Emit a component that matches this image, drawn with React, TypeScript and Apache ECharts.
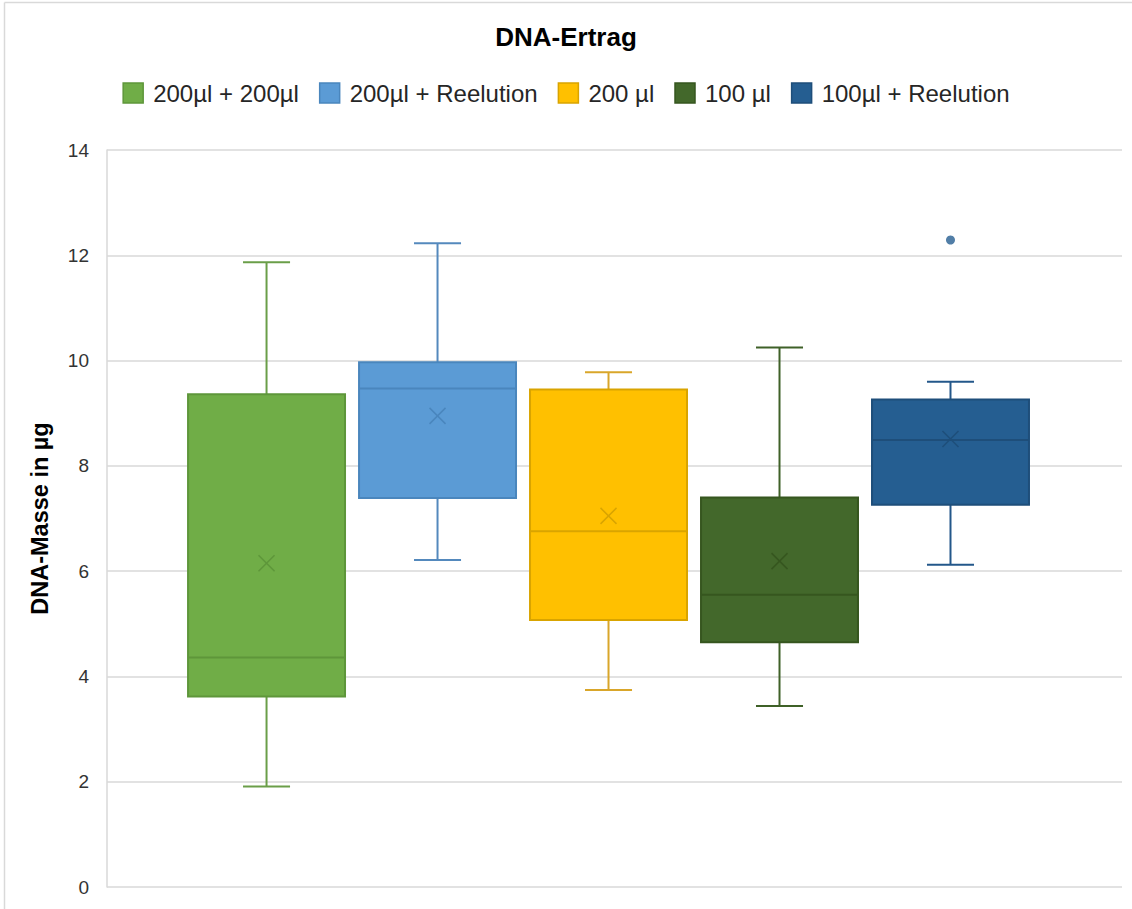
import React, { useEffect, useRef } from "react";
import * as echarts from "echarts";

const groups = ["200µl + 200µl", "200µl + Reelution", "200 µl", "100 µl", "100µl + Reelution"];
const lowWhisker = [1.91, 6.21, 3.74, 3.44, 6.12];
const q1 = [3.62, 7.39, 5.07, 4.65, 7.26];
const median = [4.36, 9.47, 6.76, 5.55, 8.49];
const q3 = [9.36, 9.97, 9.45, 7.4, 9.26];
const highWhisker = [11.87, 12.23, 9.78, 10.25, 9.6];
const mean = [6.15, 8.95, 7.05, 6.19, 8.51];
const outliers: [number, number][] = [[4, 12.29]];
const yTicks = [0, 2, 4, 6, 8, 10, 12, 14];

const fills = ["#70AD47", "#5B9BD5", "#FFC000", "#43682B", "#255E91"];
const strokes = ["#5E963A", "#4A86BD", "#D9A400", "#36561F", "#1E4E7A"];
const whiskerColors = ["#6A9E48", "#5489BD", "#D9A62A", "#3F6128", "#23578A"];

const FONT = "'Liberation Sans', Arial, sans-serif";

export default function App() {
  const ref = useRef<HTMLDivElement>(null);
  useEffect(() => {
    document.body.style.margin = "0";
    const chart = echarts.init(ref.current!, null, { renderer: "svg" });
    const BOX_W = 0.918;
    const CAP_W = 0.275;

    const series: any[] = groups.map((name, i) => ({
      name,
      type: "custom",
      coordinateSystem: "cartesian2d",
      itemStyle: { color: fills[i], borderColor: strokes[i] },
      data: [[i + 1, lowWhisker[i], q1[i], median[i], q3[i], highWhisker[i], mean[i]]],
      encode: { x: 0, y: [1, 2, 3, 4, 5] },
      renderItem: (params: any, api: any) => {
        const x = api.value(0);
        const pLow = api.coord([x, api.value(1)]);
        const pQ1 = api.coord([x, api.value(2)]);
        const pMed = api.coord([x, api.value(3)]);
        const pQ3 = api.coord([x, api.value(4)]);
        const pHigh = api.coord([x, api.value(5)]);
        const pMean = api.coord([x, api.value(6)]);
        const hw = api.size([BOX_W, 0])[0] / 2;
        const cw = api.size([CAP_W, 0])[0] / 2;
        const cx = pMed[0];
        const wStyle = { stroke: whiskerColors[i], lineWidth: 2 };
        const m = 8;
        return {
          type: "group",
          children: [
            { type: "line", shape: { x1: cx, y1: pLow[1], x2: cx, y2: pQ1[1] }, style: wStyle },
            { type: "line", shape: { x1: cx, y1: pQ3[1], x2: cx, y2: pHigh[1] }, style: wStyle },
            { type: "line", shape: { x1: cx - cw, y1: pLow[1], x2: cx + cw, y2: pLow[1] }, style: wStyle },
            { type: "line", shape: { x1: cx - cw, y1: pHigh[1], x2: cx + cw, y2: pHigh[1] }, style: wStyle },
            {
              type: "rect",
              shape: { x: cx - hw, y: pQ3[1], width: hw * 2, height: pQ1[1] - pQ3[1] },
              style: { fill: fills[i], stroke: strokes[i], lineWidth: 2 },
            },
            {
              type: "line",
              shape: { x1: cx - hw, y1: pMed[1], x2: cx + hw, y2: pMed[1] },
              style: { stroke: strokes[i], lineWidth: 2 },
            },
            {
              type: "line",
              shape: { x1: cx - m, y1: pMean[1] - m, x2: cx + m, y2: pMean[1] + m },
              style: { stroke: strokes[i], lineWidth: 1.5 },
            },
            {
              type: "line",
              shape: { x1: cx - m, y1: pMean[1] + m, x2: cx + m, y2: pMean[1] - m },
              style: { stroke: strokes[i], lineWidth: 1.5 },
            },
          ],
        };
      },
      z: 2,
    }));

    series.push({
      name: groups[4],
      type: "scatter",
      symbol: "circle",
      symbolSize: 9,
      itemStyle: { color: fills[4] },
      data: outliers.map(([g, v]) => [g + 1, v]),
      z: 3,
    });

    chart.setOption({
      animation: false,
      backgroundColor: "#fff",
      textStyle: { fontFamily: FONT },
      title: {
        text: "DNA-Ertrag",
        left: "center",
        top: 19,
        textStyle: { fontFamily: FONT, fontSize: 26, fontWeight: "bold", color: "#000" },
      },
      legend: {
        top: 76,
        left: "center",
        itemWidth: 20,
        itemHeight: 20,
        itemGap: 20,
        textStyle: { fontFamily: FONT, fontSize: 24, color: "#262626", padding: [0, 0, 0, 5] },
        data: groups.map((g, i) => ({
          name: g,
          icon: "rect",
          itemStyle: { color: fills[i], borderColor: strokes[i], borderWidth: 1.5 },
        })),
      },
      grid: { left: 107, right: 10, top: 150, bottom: 22, containLabel: false },
      xAxis: {
        type: "value",
        min: 0.067,
        max: 6.003,
        show: false,
      },
      yAxis: {
        type: "value",
        min: yTicks[0],
        max: yTicks[yTicks.length - 1],
        interval: 2,
        name: "DNA-Masse in µg",
        nameLocation: "middle",
        nameGap: 55,
        nameTextStyle: { fontFamily: FONT, fontSize: 23.5, fontWeight: "bold", color: "#000" },
        axisLine: { show: true, lineStyle: { color: "#d9d9d9", width: 1.5 } },
        axisTick: { show: false },
        axisLabel: { fontFamily: FONT, fontSize: 19, color: "#333", margin: 18 },
        splitLine: { show: true, lineStyle: { color: "#d9d9d9", width: 1.5 } },
      },
      graphic: [
        {
          type: "line",
          shape: { x1: 4.5, y1: 2.5, x2: 4.5, y2: 909 },
          style: { stroke: "#d9d9d9", lineWidth: 1.5 },
          silent: true,
        },
        {
          type: "line",
          shape: { x1: 4.5, y1: 2.5, x2: 1132, y2: 2.5 },
          style: { stroke: "#d9d9d9", lineWidth: 1.5 },
          silent: true,
        },
      ],
      series,
    });
    return () => chart.dispose();
  }, []);
  return <div ref={ref} style={{ width: 1132, height: 909 }} />;
}
